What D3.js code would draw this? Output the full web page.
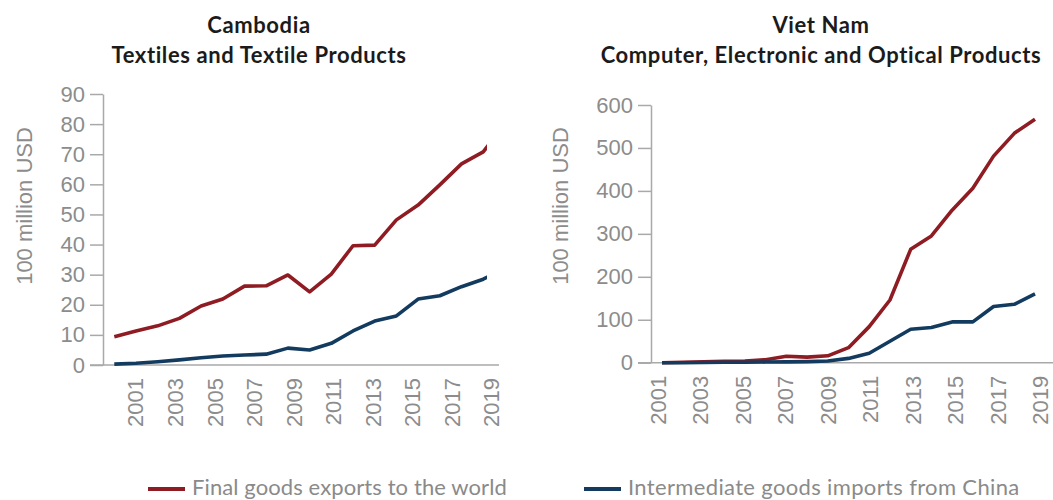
<!DOCTYPE html>
<html>
<head>
<meta charset="utf-8">
<script src="https://cdnjs.cloudflare.com/ajax/libs/d3/7.8.5/d3.min.js"></script>
<style>
  body { margin: 0; background: #fff; }
  svg { display: block; }
</style>
</head>
<body>
<div id="chart"></div>
<script>
// data, in 100 million USD
var years = [2001, 2002, 2003, 2004, 2005, 2006, 2007, 2008, 2009, 2010,
             2011, 2012, 2013, 2014, 2015, 2016, 2017, 2018, 2019];
var tickYears = [2001, 2003, 2005, 2007, 2009, 2011, 2013, 2015, 2017, 2019];

var khmFinal = [9.4, 11.3, 13.0, 15.5, 19.6, 21.9, 26.2, 26.3, 29.9, 24.3,
                30.2, 39.6, 39.8, 48.2, 53.1, 59.8, 66.8, 70.8, 80];
var khmInter = [0.3, 0.6, 1.1, 1.7, 2.4, 3.0, 3.3, 3.6, 5.6, 5.0,
                7.2, 11.3, 14.6, 16.3, 21.9, 23.0, 26.0, 28.5, 32];

var vnmFinal = [0, 1, 2, 3, 4, 7, 15, 13, 16, 35,
                84, 146, 264, 295, 355, 406, 481, 534, 567];
var vnmInter = [0, 0, 0.5, 1, 1, 1.5, 2, 2.5, 4, 10,
                22, 50, 78, 82, 95, 95, 131, 136, 160];

var khmTicks = [0, 10, 20, 30, 40, 50, 60, 70, 80, 90];
var vnmTicks = [0, 100, 200, 300, 400, 500, 600];

var seriesNames = ["Final goods exports to the world", "Intermediate goods imports from China"];
var seriesColors = ["#8e1c22", "#133b5f"];

var W = 1053, H = 500;
var grey = "#8c8c8c";
var axisGrey = "#a9a9a9";

var svg = d3.select("#chart").append("svg")
  .attr("width", W)
  .attr("height", H);

function drawChart(o) {
  var g = svg.append("g");

  var y = d3.scaleLinear().domain([0, o.yMax]).range([o.y0, o.y1]);
  // the lines and the year labels sit on slightly different spacings in the reference
  var xData = d3.scaleLinear().domain([years[0], years[years.length - 1]]).range(o.dataRange);
  var xLab = d3.scaleLinear().domain([tickYears[0], tickYears[tickYears.length - 1]]).range(o.labRange);

  // titles
  [o.title1, o.title2].forEach(function(t, i) {
    g.append("text")
      .attr("x", o.titleX).attr("y", 33 + i * 30)
      .attr("text-anchor", "middle")
      .style("font", "bold 22px Lato, sans-serif")
      .style("letter-spacing", "0.6px")
      .style("fill", "#1b1b1b")
      .text(t);
  });

  // y axis
  var yAxis = g.append("g")
    .attr("transform", "translate(" + o.axisX + ",0)")
    .call(d3.axisLeft(y).tickValues(o.ticks).tickSize(13).tickPadding(5).tickSizeOuter(0));
  yAxis.selectAll("line, path").attr("stroke", axisGrey).attr("stroke-width", 1.5);
  yAxis.selectAll("text")
    .style("font", "22px 'Liberation Sans', Arial, sans-serif")
    .style("fill", grey);

  // x axis baseline
  g.append("line")
    .attr("x1", o.axisX - 13).attr("x2", o.xEnd)
    .attr("y1", y(0)).attr("y2", y(0))
    .attr("stroke", axisGrey).attr("stroke-width", 1.5);

  // year labels
  g.selectAll(".yr")
    .data(tickYears)
    .enter().append("text")
    .attr("class", "yr")
    .attr("transform", function(d) { return "translate(" + xLab(d) + "," + (y(0) + 13) + ") rotate(-90)"; })
    .attr("dy", "0.35em")
    .attr("text-anchor", "end")
    .style("font", "22px 'Liberation Sans', Arial, sans-serif")
    .style("fill", grey)
    .text(function(d) { return d; });

  // axis title
  g.append("text")
    .attr("transform", "translate(" + o.titleYX + ",206) rotate(-90)")
    .attr("text-anchor", "middle")
    .attr("dy", "0.35em")
    .style("font", "22px 'Liberation Sans', Arial, sans-serif")
    .style("fill", grey)
    .text("100 million USD");

  // clip so the plot stops at the edge like the original
  var clipId = "clip-" + o.id;
  svg.append("clipPath").attr("id", clipId)
    .append("rect")
    .attr("x", o.axisX).attr("y", 0)
    .attr("width", o.clipRight - o.axisX).attr("height", H);

  var line = d3.line()
    .x(function(d, i) { return xData(years[i]); })
    .y(function(d) { return y(d); });

  var series = [o.inter, o.final];
  var cols = [seriesColors[1], seriesColors[0]];
  if (o.finalOnTop === false) { series = [o.final, o.inter]; cols = [seriesColors[0], seriesColors[1]]; }

  g.append("g").attr("clip-path", "url(#" + clipId + ")")
    .selectAll("path")
    .data(series)
    .enter().append("path")
    .attr("d", line)
    .attr("fill", "none")
    .attr("stroke", function(d, i) { return cols[i]; })
    .attr("stroke-width", 3.6)
    .attr("stroke-linejoin", "round");
}

drawChart({
  id: "khm",
  title1: "Cambodia", title2: "Textiles and Textile Products", titleX: 259,
  yMax: 90, ticks: khmTicks, y0: 365, y1: 94,
  axisX: 103, xEnd: 499, clipRight: 487,
  dataRange: [114.3, 114.3 + 18 * 21.7], labRange: [135.7, 491.7],
  titleYX: 24,
  final: khmFinal, inter: khmInter
});

drawChart({
  id: "vnm",
  title1: "Viet Nam", title2: "Computer, Electronic and Optical Products", titleX: 821,
  yMax: 600, ticks: vnmTicks, y0: 362.7, y1: 105,
  axisX: 651, xEnd: 1053, clipRight: 1053,
  dataRange: [662, 1035], labRange: [658.3, 1040.7],
  titleYX: 560,
  final: vnmFinal, inter: vnmInter, finalOnTop: false
});

// legend
var legend = svg.append("g").selectAll("g")
  .data(seriesNames)
  .enter().append("g")
  .attr("transform", function(d, i) { return "translate(" + [148, 584][i] + ",489)"; });

legend.append("line")
  .attr("x1", 0).attr("x2", 37)
  .attr("stroke", function(d, i) { return seriesColors[i]; })
  .attr("stroke-width", 4);

legend.append("text")
  .attr("x", 44).attr("y", 6)
  .style("font", "22px Lato, sans-serif")
  .style("letter-spacing", function(d, i) { return i ? "0.35px" : "0.1px"; })
  .style("fill", "#8a8a8a")
  .text(function(d) { return d; });
</script>
</body>
</html>
